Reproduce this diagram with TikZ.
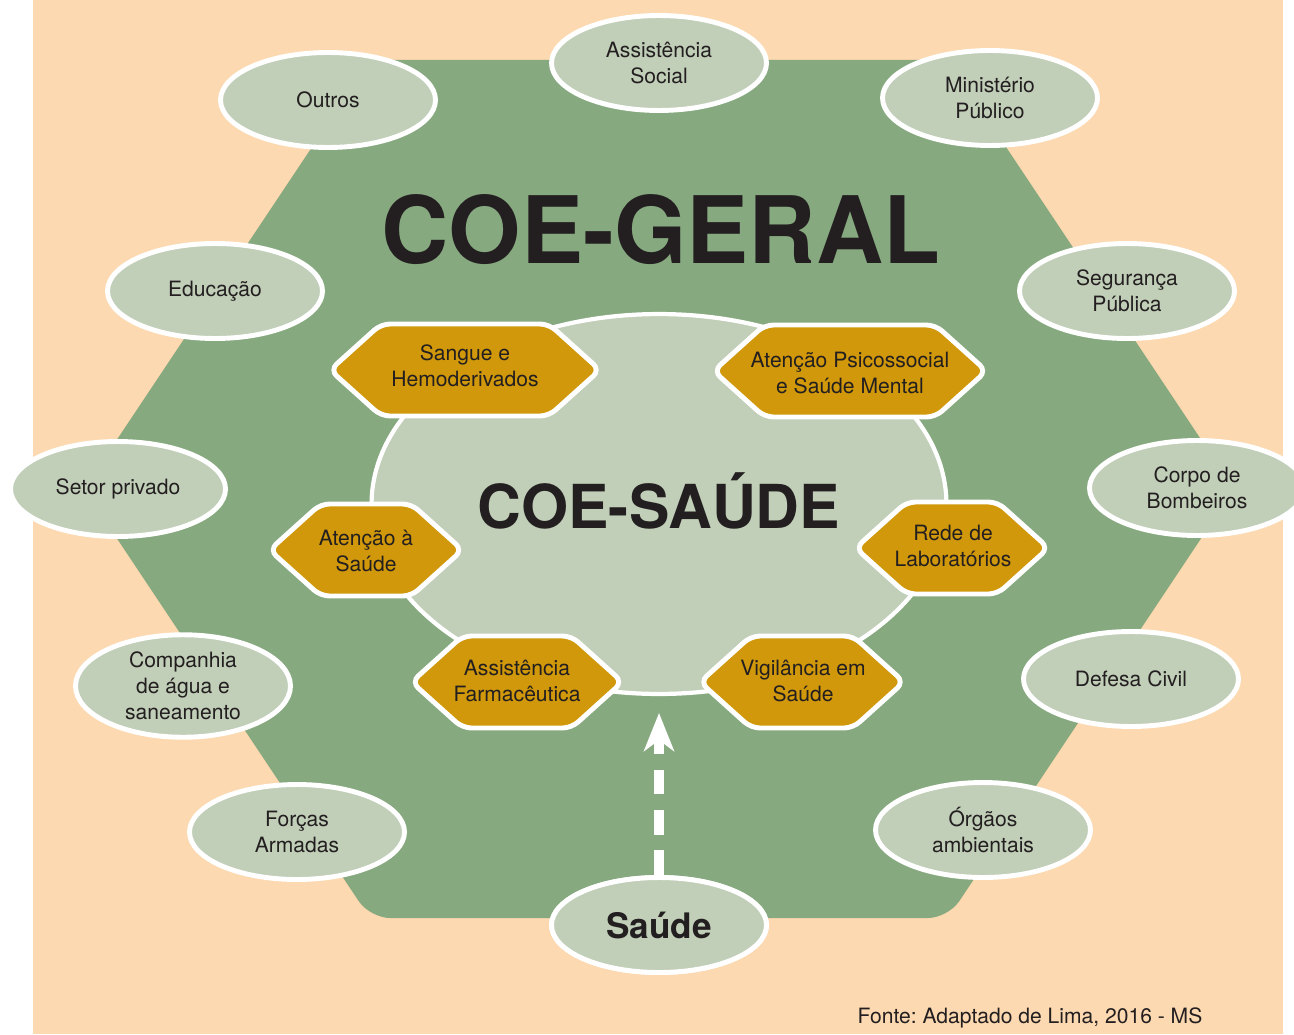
\documentclass[tikz,border=0pt]{standalone}
\usepackage{fontspec}
\setmainfont{TeX Gyre Heros}
\frenchspacing
\usetikzlibrary{shapes.geometric,shapes.symbols,arrows.meta}
%Cores
\definecolor{pessego}{HTML}{FCD9B0}
\definecolor{verde}{HTML}{87A980}
\definecolor{verdeclaro}{HTML}{C1CEB8}
\definecolor{ouro}{HTML}{D0980A}
\definecolor{texto}{HTML}{231F20}
\tikzset{
  orgao/.style={ellipse, draw=white, line width=2.8pt, fill=verdeclaro, text=texto,
    minimum width=4.3cm, minimum height=1.9cm, inner sep=0pt, align=center,
    font=\fontsize{12}{14.7}\selectfont},
  area/.style={signal, signal to=west and east, signal pointer angle=84, draw=white,
    line width=2.8pt, fill=ouro, rounded corners=5pt, minimum height=1.84cm, inner sep=0pt},
  areatexto/.style={text=texto, inner sep=0pt, align=center, font=\fontsize{12}{14.7}\selectfont},
  seta/.style={white, line width=5.4pt, dash pattern=on 14pt off 9pt,
    -{Stealth[length=0.76cm,width=0.6cm,inset=0.22cm]}}
}
\begin{document}
\begin{tikzpicture}[x=0.02cm,y=-0.02cm] %Escala em pixels
	\useasboundingbox (0,0) rectangle (1294,1034);
	\fill[pessego] (33,0) rectangle (1283,1034); %Fundo
		%Hexagono do COE-GERAL
	\fill[verde, rounded corners=0.4cm] (370,60) -- (948,60) -- (1234,489) -- (948,918) -- (370,918) -- (84,489) -- cycle;
	\node[ellipse, draw=white, line width=2.4pt, fill=verdeclaro, minimum width=11.5cm, minimum height=7.6cm] (saudecentro) at (659,504) {};
	\node[text=texto, font=\bfseries\fontsize{53}{53}\selectfont] (geral) at (661,230) {COE-GERAL};
	\node[text=texto, font=\bfseries\fontsize{34.5}{34.5}\selectfont] (coesaude) at (659,501) {COE-SAÚDE};
		%Areas da saude
	\node[area, minimum width=5.4cm] (sangue) at (465,370) {};
	\node[areatexto] (sangue-txt) at (465,366) {Sangue e\\Hemoderivados};
	\node[area, minimum width=5.46cm] (psico) at (850,371) {};
	\node[areatexto] (psico-txt) at (850,373) {Atenção Psicossocial\\e Saúde Mental};
	\node[area, minimum width=3.86cm] (atencao) at (366,550) {};
	\node[areatexto] (atencao-txt) at (366,551) {Atenção à\\Saúde};
	\node[area, minimum width=3.86cm] (lab) at (952,548) {};
	\node[areatexto] (lab-txt) at (953,546) {Rede de\\Laboratórios};
	\node[area, minimum width=4.22cm] (farma) at (517,682) {};
	\node[areatexto] (farma-txt) at (517,681) {Assistência\\Farmacêutica};
	\node[area, minimum width=4.08cm] (vig) at (802,682) {};
	\node[areatexto] (vig-txt) at (803,681) {Vigilância em\\Saúde};
		%Orgaos do COE-GERAL
	\node[orgao] (social) at (659,63) {Assistência\\Social};
	\node[orgao] (outros) at (328,100) {Outros};
	\node[orgao] (ministerio) at (990,98) {Ministério\\Público};
	\node[orgao] (educacao) at (215,291) {Educação};
	\node[orgao] (seguranca) at (1127,291) {Segurança\\Pública};
	\node[orgao] (privado) at (118,489) {Setor privado};
	\node[orgao] (bombeiros) at (1197,488) {Corpo de\\Bombeiros};
	\node[orgao, minimum height=2.05cm] (agua) at (183,686) {Companhia\\de água e\\saneamento};
	\node[orgao] (defesa) at (1131,679) {Defesa Civil};
	\node[orgao] (forcas) at (297,832) {Forças\\Armadas};
	\node[orgao] (ambientais) at (983,830) {Órgãos\\ambientais};
		%Seta da Saude
	\coordinate (ponta) at (659,713);
	\node[orgao] (saude) at (659,925) {};
	\draw[seta] (saude.north) -- (ponta);
	\node[orgao, font=\bfseries\fontsize{20}{20}\selectfont] at (saude) {Saúde};
	\node[text=texto, font=\fontsize{12}{14.7}\selectfont] (fonte) at (1030,1018) {Fonte: Adaptado de Lima, 2016 - MS};
\end{tikzpicture}
\end{document}
